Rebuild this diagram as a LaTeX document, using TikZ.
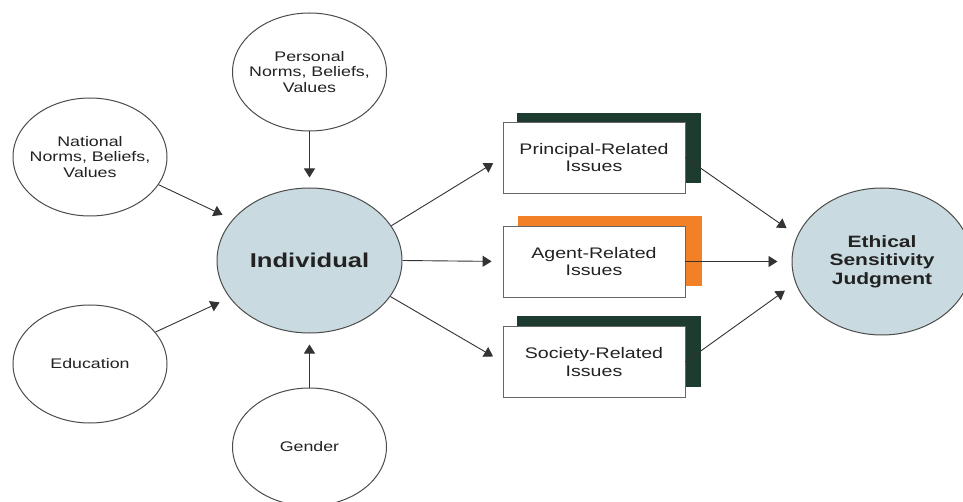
\documentclass[tikz,border=0pt]{standalone}
\usepackage{fontspec}
\setmainfont{Liberation Sans}[FakeStretch=1.28]
\usetikzlibrary{arrows.meta,shapes.geometric}
\definecolor{bluefill}{HTML}{C9DBE0}
\definecolor{darkgreen}{HTML}{1E3B30}
\definecolor{orangesh}{HTML}{F28026}
\definecolor{linegray}{HTML}{333333}
\definecolor{txtgray}{HTML}{222222}
\tikzset{
  bubble/.style={ellipse, draw=black!70, line width=1pt, fill=white, inner sep=0pt,
    minimum width=154pt, minimum height=118pt},
  bigbubble/.style={ellipse, draw=black!70, line width=1pt, fill=bluefill, inner sep=0pt},
  smalltxt/.style={align=center, text=txtgray, font=\fontsize{13.9}{15.5}\selectfont},
  boxtxt/.style={align=center, text=txtgray, font=\fontsize{15.3}{17.7}\selectfont},
  issuebox/.style={rectangle, draw=black!60, line width=0.8pt, fill=white, inner sep=0pt,
    minimum width=182pt, minimum height=71pt},
  shadowbox/.style={rectangle, draw=none, inner sep=0pt, minimum width=184pt, minimum height=70pt},
  conn/.style={draw=linegray, line width=0.9pt, -{Triangle[length=9pt,width=11pt]}, shorten >=11pt},
}
\begin{document}
\begin{tikzpicture}[x=1pt,y=-1pt]
\useasboundingbox (0,0) rectangle (963,502);
\fill[white] (0,0) rectangle (963,502);

% outer bubbles
\node[bubble] (pn) at (309.5,72) {};
\node[smalltxt] (pnt) at (pn) {Personal\\Norms, Beliefs,\\Values};
\node[bubble] (nn) at (90,157) {};
\node[smalltxt] (nnt) at (nn) {National\\Norms, Beliefs,\\Values};
\node[bubble] (ed) at (90,364) {};
\node[smalltxt] (edt) at (ed) {Education};
\node[bubble] (ge) at (309.5,447) {};
\node[smalltxt] (get) at (ge) {Gender};

% central
\node[bigbubble, minimum width=185pt, minimum height=145pt] (ind) at (309.5,260.5) {};
\node[text=txtgray, font=\bfseries\fontsize{20}{22}\selectfont] (indt) at (ind) {Individual};

\node[bigbubble, minimum width=180pt, minimum height=147pt] (eth) at (882,261.5) {};
\node[align=center, text=txtgray, font=\bfseries\fontsize{16.4}{18.5}\selectfont] (etht) at (eth) {Ethical\\Sensitivity\\Judgment};

% issue boxes with shadows
\node[shadowbox, fill=darkgreen] (psh) at (609,148) {};
\node[issuebox] (pr) at (594,157.5) {};
\node[boxtxt] (prt) at (pr) {Principal-Related\\Issues};

\node[shadowbox, fill=orangesh] (ash) at (610,251.5) {};
\node[issuebox] (ag) at (594,261.5) {};
\node[boxtxt] (agt) at (ag) {Agent-Related\\Issues};

\node[shadowbox, fill=darkgreen] (ssh) at (609,351.5) {};
\node[issuebox] (so) at (594,362) {};
\node[boxtxt] (sot) at (so) {Society-Related\\Issues};

% connectors into Individual
\draw[conn, shorten >=10pt] (pn.south) -- (ind.north);
\draw[conn, shorten >=11pt] (ge.north) -- (ind.south);
\draw[conn, shorten >=11pt] (nn.-22) -- (ind.152);
\draw[conn, shorten >=11pt] (ed.26) -- (ind.205);

% Individual to issues
\draw[conn] (ind.23) -- (pr.west);
\draw[conn] (ind.east) -- (ag.west);
\draw[conn] (ind.-24) -- (so.west);

% issues to Ethical
\draw[conn, shorten >=13pt] (pr.east) -- (eth.163);
\draw[conn, shorten >=14pt] (ag.east) -- (eth.west);
\draw[conn, shorten >=13pt] (so.east) -- (eth.194);
\end{tikzpicture}
\end{document}
